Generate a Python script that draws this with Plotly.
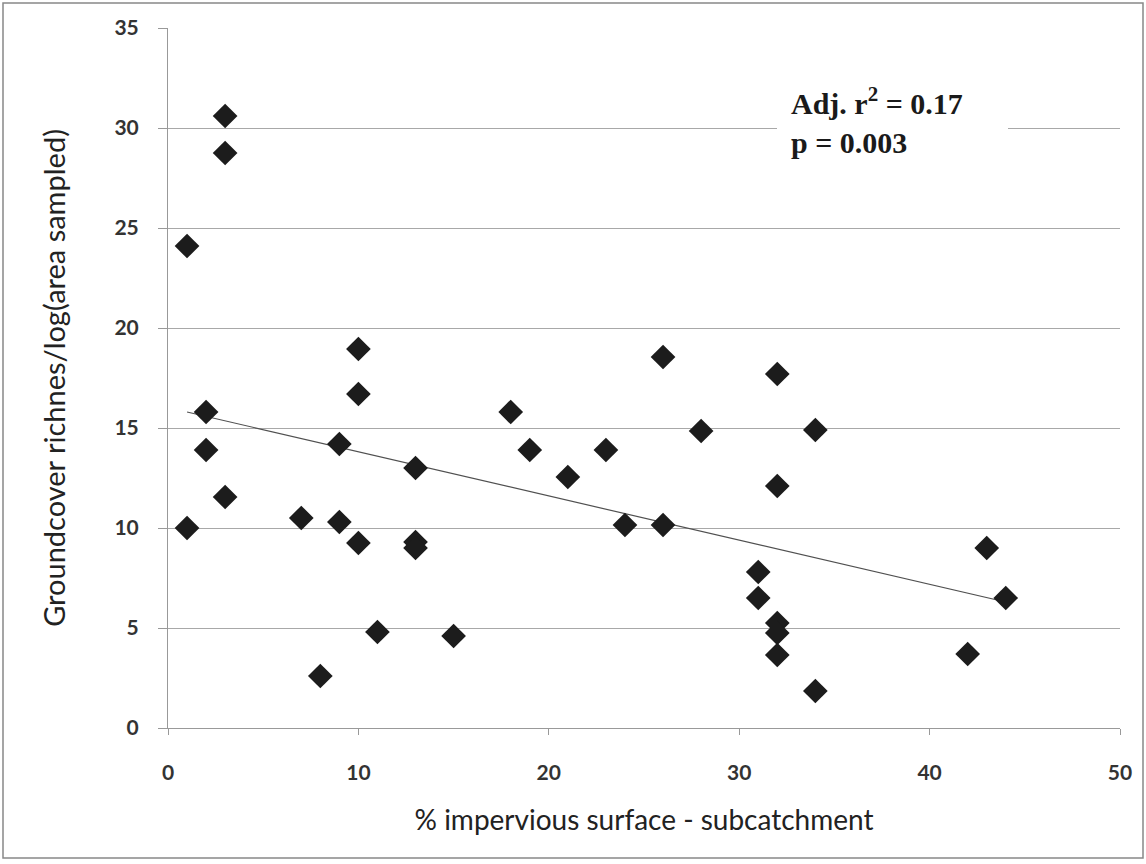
import plotly.graph_objects as go

# Data
impervious = [1, 1, 2, 2, 3, 3, 3, 7, 8, 9, 9, 10, 10, 10, 11, 13, 13, 13, 15,
              18, 19, 21, 23, 24, 26, 26, 28, 31, 31, 32, 32, 32, 32, 32, 34, 34,
              42, 43, 44]
richness = [10.0, 24.1, 15.8, 13.9, 30.6, 28.75, 11.55, 10.5, 2.6, 14.2, 10.3,
            18.95, 16.7, 9.25, 4.8, 13.0, 9.3, 9.0, 4.6,
            15.8, 13.9, 12.55, 13.9, 10.15, 18.55, 10.15, 14.85, 7.8, 6.5,
            17.7, 12.1, 5.25, 4.75, 3.65, 14.9, 1.85,
            3.7, 9.0, 6.5]
trend_x = [1, 44]
trend_y = [15.8, 6.3]

x_ticks = [0, 10, 20, 30, 40, 50]
y_ticks = [0, 5, 10, 15, 20, 25, 30, 35]

W, H = 1146, 864
L, R, T, B = 168, 26, 28, 136
pw, ph = W - L - R, H - T - B

def px(xp):
    return (xp - L) / pw

def py(yp):
    return (H - B - yp) / ph

tick_font = dict(family="Lato, sans-serif", size=21, color="#333333", weight="bold")
xtitle_font = dict(family="Lato, sans-serif", size=28, color="#222222")
ytitle_font = dict(family="Lato, sans-serif", size=29, color="#222222")

fig = go.Figure()
fig.add_trace(go.Scatter(x=trend_x, y=trend_y, mode="lines",
                         line=dict(color="#505050", width=1.2), hoverinfo="skip"))
fig.add_trace(go.Scatter(x=impervious, y=richness, mode="markers",
                         marker=dict(symbol="diamond", size=19, color="#1c1c1c",
                                     line=dict(width=0))))

fig.update_layout(
    width=W, height=H,
    margin=dict(l=L, r=R, t=T, b=B),
    paper_bgcolor="white", plot_bgcolor="white",
    showlegend=False,
    xaxis=dict(range=[0, 50], tickvals=x_ticks, showgrid=False, zeroline=False,
               showline=True, linecolor="#999999", linewidth=1,
               ticks="outside", ticklen=6, tickcolor="#999999",
               tickfont=tick_font, ticklabelstandoff=20,
               title=dict(text="% impervious surface - subcatchment", font=xtitle_font, standoff=27)),
    yaxis=dict(range=[0, 35], tickvals=y_ticks, showgrid=True, gridcolor="#a8a8a8", gridwidth=1,
               zeroline=False, showline=True, linecolor="#999999", linewidth=1,
               ticks="outside", ticklen=9, tickcolor="#999999",
               tickfont=tick_font, ticklabelstandoff=15,
               title=dict(text="Groundcover richnes/log(area sampled)", font=ytitle_font, standoff=40)),
)

# white box behind the statistics text
fig.add_shape(type="rect", xref="paper", yref="paper",
              x0=px(777), x1=px(1008), y0=py(172), y1=py(78),
              fillcolor="white", line=dict(width=0), layer="above")
fig.add_annotation(xref="paper", yref="paper", x=px(789), y=py(120),
                   xanchor="left", yanchor="middle", align="left", showarrow=False,
                   text="<b>Adj. r<sup>2</sup> = 0.17</b><br><b>p = 0.003</b>",
                   font=dict(family="Liberation Serif, Times New Roman, serif", size=30, color="#1a1a1a"))

# outer chart border
fig.add_shape(type="rect", xref="paper", yref="paper",
              x0=px(3), x1=px(1143), y0=py(858), y1=py(3),
              line=dict(color="#888888", width=1.5), fillcolor="rgba(0,0,0,0)", layer="below")

fig.write_html("out.html")
